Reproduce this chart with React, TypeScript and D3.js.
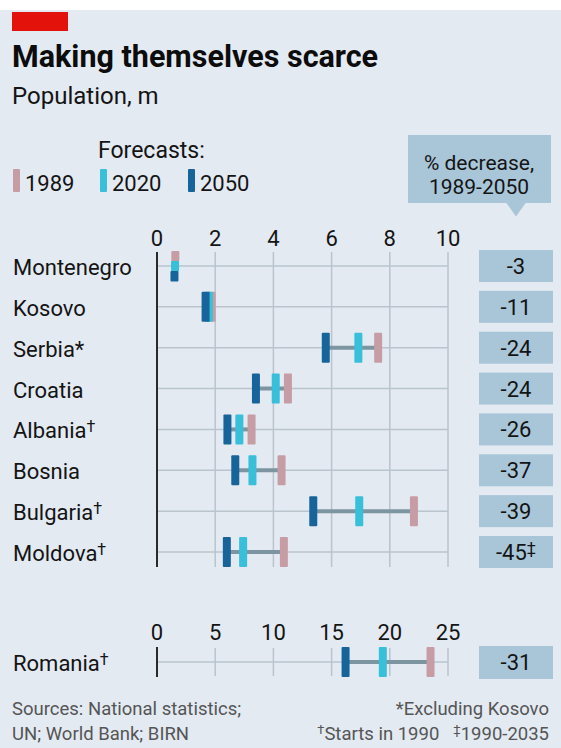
import React from "react";
import * as d3 from "d3";

const countries = ["Montenegro", "Kosovo", "Serbia", "Croatia", "Albania", "Bosnia", "Bulgaria", "Moldova"];
const countryNotes = ["", "", "*", "", "†", "", "†", "†"];
const pop1989 = [0.63, 1.88, 7.6, 4.5, 3.25, 4.28, 8.83, 4.36];
const pop2020 = [0.62, 1.78, 6.92, 4.08, 2.83, 3.28, 6.95, 2.96];
const pop2050 = [0.6, 1.67, 5.8, 3.4, 2.42, 2.69, 5.37, 2.4];
const decrease = ["-3", "-11", "-24", "-24", "-26", "-37", "-39", "-45"];
const decreaseNotes = ["", "", "", "", "", "", "", "‡"];
const ticksMain = [0, 2, 4, 6, 8, 10];

const romaniaName = "Romania";
const romaniaNote = "†";
const romania1989 = 23.5;
const romania2020 = 19.4;
const romania2050 = 16.2;
const romaniaDecrease = "-31";
const ticksRomania = [0, 5, 10, 15, 20, 25];

const years = ["1989", "2020", "2050"];
const yearColors = ["#c79da5", "#38bfd9", "#17649b"];

const FONT = "Roboto, 'Noto Sans', sans-serif";
const BG = "#e3eaf2";
const GRID = "#b9c4cc";
const LINK = "#7d95a1";
const BOX = "#a9c6d9";
const TEXT = "#141414";

export default function App() {
  const x = d3.scaleLinear().domain([0, 10]).range([157, 448]);
  const xr = d3.scaleLinear().domain([0, 25]).range([157, 448]);
  const y = d3.scalePoint<string>().domain(countries).range([266, 552]);
  const ry = 662;
  const markW = 8;
  const markH = 30;

  const renderMarks = (vals: number[], sc: d3.ScaleLinear<number, number>, cy: number, key: string) => {
    const xs = vals.map((v) => sc(v));
    const lo = Math.min(...xs);
    const hi = Math.max(...xs);
    const overlap = hi - lo < markW / 2;
    return (
      <g key={key}>
        <line x1={lo} x2={hi} y1={cy} y2={cy} stroke={LINK} strokeWidth={4} />
        {vals.map((v, j) => {
          const seg = markH / 3;
          return overlap ? (
            <rect key={j} x={xs[j] - markW / 2} y={cy - markH / 2 + j * seg} width={markW} height={seg + 0.5} fill={yearColors[j]} rx={1} />
          ) : (
            <rect key={j} x={xs[j] - markW / 2} y={cy - markH / 2} width={markW} height={markH} fill={yearColors[j]} rx={1} />
          );
        })}
      </g>
    );
  };

  const gridTop = 252;
  const gridBottom = 567;

  return (
    <svg width={561} height={748} style={{ position: "absolute", left: 0, top: 0, display: "block" }} fontFamily={FONT}>
      <rect x={0} y={0} width={561} height={748} fill={BG} />
      <rect x={0} y={0} width={561} height={10} fill="#ffffff" />
      <rect x={12} y={12} width={56} height={19} fill="#e3120b" />
      <text x={12} y={67} fontSize={30.5} fontWeight={700} fill="#0c0c0c">Making themselves scarce</text>
      <text x={12} y={104} fontSize={24} fill={TEXT}>Population, m</text>

      {/* legend */}
      <text x={98} y={158} fontSize={23} fill={TEXT}>Forecasts:</text>
      {years.map((yr, i) => {
        const lx = [13, 100, 188][i];
        return (
          <g key={yr}>
            <rect x={lx} y={169} width={7} height={23} fill={yearColors[i]} rx={1} />
            <text x={lx + 12} y={191} fontSize={22} fill={TEXT}>{yr}</text>
          </g>
        );
      })}

      {/* header box */}
      <rect x={408} y={135} width={143} height={68} fill={BOX} />
      <path d="M506,202.5 L526,202.5 L516,216.5 Z" fill={BOX} />
      <text x={479} y={170} fontSize={21} textAnchor="middle" fill={TEXT}>% decrease,</text>
      <text x={479} y={194} fontSize={21} textAnchor="middle" fill={TEXT}>1989-2050</text>

      {/* main axis */}
      {ticksMain.map((t) => (
        <g key={t}>
          <text x={x(t)} y={246} fontSize={22} textAnchor="middle" fill={TEXT}>{t}</text>
          {t > 0 && <line x1={x(t)} x2={x(t)} y1={gridTop} y2={gridBottom} stroke={GRID} strokeWidth={1.5} />}
        </g>
      ))}
      {countries.map((c) => (
        <line key={c} x1={x(0)} x2={x(10)} y1={y(c)} y2={y(c)} stroke={GRID} strokeWidth={1.5} />
      ))}
      <line x1={x(0)} x2={x(0)} y1={gridTop} y2={gridBottom} stroke="#2a2a2a" strokeWidth={2} />

      {countries.map((c, i) =>
        renderMarks([pop1989[i], pop2020[i], pop2050[i]], x, y(c) as number, c)
      )}

      {countries.map((c, i) => (
        <g key={"lab" + c}>
          <text x={13} y={(y(c) as number) + 9} fontSize={22} fill={TEXT}>
            {c}
            {countryNotes[i] && (
              <tspan fontSize={countryNotes[i] === "*" ? 22 : 16} dy={countryNotes[i] === "*" ? 0 : -6}>{countryNotes[i]}</tspan>
            )}
          </text>
          <rect x={479} y={(y(c) as number) - 16} width={74} height={32} fill={BOX} />
          <text x={516} y={(y(c) as number) + 8} fontSize={22} textAnchor="middle" fill={TEXT}>
            {decrease[i]}
            {decreaseNotes[i] && <tspan fontSize={16} dy={-6}>{decreaseNotes[i]}</tspan>}
          </text>
        </g>
      ))}

      {/* Romania */}
      {ticksRomania.map((t) => (
        <g key={"r" + t}>
          <text x={xr(t)} y={640} fontSize={22} textAnchor="middle" fill={TEXT}>{t}</text>
          {t > 0 && <line x1={xr(t)} x2={xr(t)} y1={ry - 14} y2={ry + 14} stroke={GRID} strokeWidth={1.5} />}
        </g>
      ))}
      <line x1={xr(0)} x2={xr(25)} y1={ry} y2={ry} stroke={GRID} strokeWidth={1.5} />
      <line x1={xr(0)} x2={xr(0)} y1={ry - 15} y2={ry + 15} stroke="#2a2a2a" strokeWidth={2} />
      {renderMarks([romania1989, romania2020, romania2050], xr, ry, "romania")}
      <text x={13} y={ry + 9} fontSize={22} fill={TEXT}>
        {romaniaName}
        <tspan fontSize={16} dy={-6}>{romaniaNote}</tspan>
      </text>
      <rect x={479} y={ry - 16} width={74} height={33} fill={BOX} />
      <text x={516} y={ry + 8} fontSize={22} textAnchor="middle" fill={TEXT}>{romaniaDecrease}</text>

      {/* footer */}
      <text x={12} y={715} fontSize={18.5} fill="#555">Sources: National statistics;</text>
      <text x={12} y={740} fontSize={18.5} fill="#555">UN; World Bank; BIRN</text>
      <text x={549} y={715} fontSize={18.5} fill="#555" textAnchor="end">*Excluding Kosovo</text>
      <text x={549} y={740} fontSize={18.5} fill="#555" textAnchor="end">
        <tspan fontSize={13} dy={-6}>†</tspan>
        <tspan dy={6}>Starts in 1990</tspan>
        <tspan fontSize={13} dx={14} dy={-6}>‡</tspan>
        <tspan dy={6}>1990-2035</tspan>
      </text>
    </svg>
  );
}
